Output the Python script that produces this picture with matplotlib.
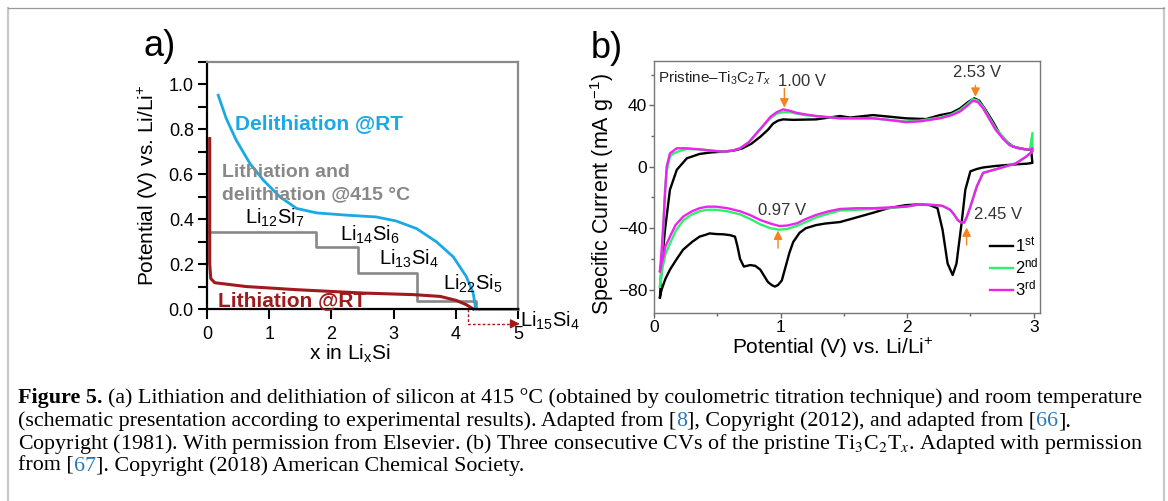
import matplotlib
matplotlib.use("Agg")
import matplotlib.pyplot as plt
from matplotlib.lines import Line2D
from matplotlib.ticker import MultipleLocator

plt.rcParams['font.family'] = ['Liberation Sans', 'DejaVu Sans']
plt.rcParams['mathtext.fontset'] = 'custom'
plt.rcParams['mathtext.rm'] = 'Liberation Sans'
plt.rcParams['mathtext.it'] = 'Liberation Sans:italic'
plt.rcParams['mathtext.bf'] = 'Liberation Sans:bold'
plt.rcParams['mathtext.default'] = 'rm'

# ---- panel a data (x in LixSi, potential V) ----
deli_x = [0.18, 0.31, 0.47, 0.69, 0.905, 1.17, 1.44, 1.76, 2.24, 2.72, 3.04, 3.37, 3.69, 3.96, 4.17, 4.28, 4.32]
deli_y = [0.952, 0.848, 0.752, 0.648, 0.574, 0.50, 0.448, 0.428, 0.418, 0.41, 0.392, 0.358, 0.299, 0.232, 0.144, 0.07, 0.0]

lith_x = [0.043, 0.043, 0.06, 0.124, 0.63, 1.44, 2.51, 3.32, 3.75, 4.01, 4.17, 4.28]
lith_y = [0.759, 0.203, 0.136, 0.117, 0.10, 0.086, 0.071, 0.064, 0.056, 0.038, 0.019, 0.0]

step_x = [0.0, 1.75, 2.43, 3.38, 4.32, 5.0]
step_y = [0.345, 0.277, 0.159, 0.037, 0.0, 0.0]

phases = ["Li$_{12}$Si$_7$", "Li$_{14}$Si$_6$", "Li$_{13}$Si$_4$", "Li$_{22}$Si$_5$", "Li$_{15}$Si$_4$"]
phase_x = [0.61, 2.14, 2.77, 3.80, 5.04]
phase_y = [0.378, 0.304, 0.196, 0.084, -0.079]

dash_x = [4.2, 4.2, 4.97]
dash_y = [0.0, -0.066, -0.066]

# ---- panel b data (potential V, specific current mA/g) ----
v1_up = [0.047, 0.06, 0.087, 0.126, 0.18, 0.26, 0.36, 0.45, 0.55, 0.63, 0.70, 0.77, 0.84, 0.90, 0.94, 0.98,
         1.02, 1.10, 1.28, 1.47, 1.55, 1.73, 1.99, 2.15, 2.26, 2.35, 2.42, 2.48, 2.53, 2.57, 2.62, 2.68,
         2.73, 2.79, 2.84, 2.92, 2.98]
i1_up = [-85, -65, -41, -15, -2, 5.5, 8.3, 9.3, 9.8, 10.5, 12, 15, 19.5, 24, 28, 30,
         30.8, 30.5, 30.8, 33, 32, 33.6, 31.5, 31, 33.6, 35, 38, 42, 44.5, 43, 37, 29,
         21.7, 16, 13, 11.5, 10.9]
v1_dn = [2.99, 2.95, 2.85, 2.70, 2.60, 2.55, 2.50, 2.46, 2.43, 2.39, 2.36, 2.32, 2.28, 2.24, 2.18,
         2.10, 1.99, 1.85, 1.73, 1.60, 1.47, 1.35, 1.28, 1.20, 1.15, 1.10, 1.07, 1.04, 1.01, 0.98,
         0.955, 0.93, 0.90, 0.84, 0.80, 0.76, 0.71, 0.68, 0.66, 0.64, 0.60, 0.55, 0.49, 0.44, 0.40,
         0.36, 0.30, 0.23, 0.18, 0.126, 0.09, 0.06, 0.047]
i1_dn = [2.5, 2, 1.5, 0.5, -0.5, -1.5, -3, -15, -37, -63, -70.5, -63, -41, -27, -25,
         -24.5, -25, -27, -30, -33, -36, -37, -38, -40, -43, -49, -56, -65, -74, -77,
         -78, -77, -75, -67, -64.5, -64, -65, -60, -52, -45.5, -44.5, -44, -43.8, -43.4, -44.5,
         -45.5, -49, -54, -60, -67, -73, -80, -85]

v2_up = [0.047, 0.06, 0.074, 0.087, 0.10, 0.126, 0.15, 0.18, 0.21, 0.26, 0.36, 0.45, 0.55, 0.62, 0.68,
         0.75, 0.81, 0.87, 0.92, 0.97, 1.02, 1.07, 1.13, 1.20, 1.28, 1.47, 1.55, 1.73, 1.85, 1.99,
         2.10, 2.26, 2.35, 2.42, 2.48, 2.52, 2.56, 2.60, 2.65, 2.70, 2.76, 2.81, 2.88, 2.97, 2.99]
i2_up = [-78, -62, -40, -15, -3, 6.5, 8.5, 9.5, 10.5, 11.5, 11.3, 10.5, 9.8, 10.5, 12,
         16, 21.7, 27, 31.5, 34.5, 35.5, 35.5, 34.5, 33.5, 33, 31.5, 31.5, 31.5, 30.5, 29.5,
         30, 32, 34, 37, 41, 44, 43, 39, 32, 25, 19, 14.5, 12, 11, 22]
v2_dn = [2.99, 2.94, 2.86, 2.73, 2.60, 2.55, 2.50, 2.47, 2.45, 2.42, 2.40, 2.37, 2.34, 2.28, 2.23,
         2.10, 1.99, 1.85, 1.73, 1.60, 1.47, 1.38, 1.28, 1.20, 1.13, 1.05, 0.99, 0.92, 0.84, 0.76,
         0.68, 0.58, 0.49, 0.42, 0.36, 0.30, 0.23, 0.17, 0.126, 0.09, 0.074, 0.06, 0.047]
i2_dn = [10, 6.5, 2.2, -1, -4, -13, -26, -33, -36.4, -36, -34.7, -31, -28, -25.5, -25,
         -24.5, -26, -27, -27.5, -28, -28.5, -30.5, -33, -36, -38.5, -40.5, -41, -40, -37.5, -34,
         -31, -29, -28, -28, -29, -31, -35, -42, -50, -57, -63, -69, -78]

v3_up = [0.047, 0.06, 0.074, 0.087, 0.10, 0.126, 0.18, 0.26, 0.36, 0.45, 0.55, 0.62, 0.68, 0.75, 0.81,
         0.87, 0.92, 0.97, 1.02, 1.07, 1.13, 1.20, 1.28, 1.47, 1.55, 1.73, 1.85, 1.99, 2.10, 2.26,
         2.35, 2.42, 2.48, 2.52, 2.56, 2.60, 2.65, 2.70, 2.76, 2.81, 2.88, 2.97, 2.99]
i3_up = [-68, -55, -37, -18, 0, 8.7, 12, 12, 11.3, 10.5, 9.8, 10.5, 12, 16, 21.7,
         27.5, 32.5, 35.5, 37.3, 36.5, 35, 34, 33, 31.5, 31.5, 31.5, 30.5, 29, 29.5, 31.5,
         33.5, 36, 40, 43, 42, 38, 31, 24, 18, 14, 12, 11, 12]
v3_dn = [2.99, 2.94, 2.86, 2.73, 2.60, 2.55, 2.50, 2.47, 2.45, 2.42, 2.40, 2.37, 2.34, 2.28, 2.23,
         2.10, 1.99, 1.85, 1.73, 1.60, 1.47, 1.38, 1.28, 1.20, 1.13, 1.05, 0.99, 0.92, 0.84, 0.76,
         0.68, 0.58, 0.49, 0.42, 0.36, 0.30, 0.23, 0.17, 0.126, 0.09, 0.074, 0.06, 0.047]
i3_dn = [10, 6.5, 2.2, -1, -4, -13, -26, -33, -36.4, -36, -34.7, -31, -28, -25.5, -25,
         -24.5, -26, -26.5, -27, -27, -27.5, -29, -31.4, -34, -36.8, -38.3, -38.6, -37, -34.7, -31.5,
         -29, -27, -26, -26, -27, -29, -32.5, -38, -45.5, -52, -58.5, -63, -68]

cycle_labels = ["1$^{st}$", "2$^{nd}$", "3$^{rd}$"]
cycle_colors = ["black", "#2ef06a", "#ee22ee"]

peak_labels = ["1.00 V", "2.53 V", "0.97 V", "2.45 V"]
peak_v = [1.03, 2.54, 0.98, 2.47]
arrow_tail = [51, 53, -53, -51]
arrow_head = [38.5, 45.5, -41.5, -39.5]
label_xy = [(1.17, 55.3), (2.55, 61), (1.01, -28.2), (2.72, -31.4)]

W, H = 1168, 501
fig = plt.figure(figsize=(W / 100, H / 100), dpi=100)

blue = "#1aa9e3"
red = "#9e1a1c"
gray = "#888888"
orange = "#f5821f"

# ================= panel a =================
ax = fig.add_axes([207 / W, 1 - 309 / H, 311 / W, 247 / H])
ax.set_xlim(0, 5)
ax.set_ylim(0, 1.1)
ax.step(step_x, step_y, where='post', color=gray, lw=1.9, clip_on=False)
ax.plot(deli_x, deli_y, color=blue, lw=2.0, clip_on=False)
ax.plot(lith_x, lith_y, color=red, lw=2.2, clip_on=False)
ax.plot(dash_x, dash_y, color=red, lw=1.0, ls=(0, (2, 1.5)), clip_on=False)
ax.annotate('', xy=(5.03, dash_y[-1]), xytext=(4.9, dash_y[-1]), annotation_clip=False,
            arrowprops=dict(arrowstyle='-|>', color=red, lw=1.0, mutation_scale=14,
                            shrinkA=0, shrinkB=0))

for s, x, y in zip(phases, phase_x, phase_y):
    ax.text(x, y, s, fontsize=14.5, va='baseline', ha='left', clip_on=False)

ax.text(0.45, 0.80, "Delithiation @RT", color=blue, fontsize=15, fontweight='bold', va='baseline')
ax.text(0.236, 0.588, "Lithiation and", color=gray, fontsize=14, fontweight='bold', va='baseline')
ax.text(0.236, 0.489, "delithiation @415 °C", color=gray, fontsize=14, fontweight='bold', va='baseline')
ax.text(0.18, 0.012, "Lithiation @RT", color=red, fontsize=15, fontweight='bold', va='baseline')

ax.yaxis.set_minor_locator(MultipleLocator(0.1))
ax.xaxis.set_major_locator(MultipleLocator(1))
ax.set_yticks([0, 0.2, 0.4, 0.6, 0.8, 1.0])
ax.set_yticklabels(["0.0", "0.2", "0.4", "0.6", "0.8", "1.0"])
ax.tick_params(axis='y', which='both', direction='out', length=6.5, width=1.5, labelsize=13, pad=3)
ax.tick_params(axis='x', which='both', direction='out', length=7.5, width=1.5, labelsize=13, pad=5)
for side in ['left', 'bottom']:
    ax.spines[side].set_linewidth(1.6)
    ax.spines[side].set_color('black')
for side in ['top', 'right']:
    ax.spines[side].set_linewidth(1.6)
    ax.spines[side].set_color('#8a8a8a')
ax.set_xlabel("x in Li$_x$Si", fontsize=15)
ax.set_ylabel("Potential (V) vs. Li/Li$^{+}$", fontsize=15)
ax.xaxis.set_label_coords(0.46, -0.18)
ax.xaxis.label.set_va('center')
ax.yaxis.set_label_coords(-0.19, 0.5)
ax.yaxis.label.set_va('center')

fig.text(160 / W, 1 - 47 / H, "a)", fontsize=26, ha='center', va='center')

# ================= panel b =================
bx = fig.add_axes([654 / W, 1 - 312.7 / H, 386 / W, 251.7 / H])
bx.set_xlim(0, 3.05)
bx.set_ylim(-95, 68.8)
cycles = [(v1_up, i1_up, v1_dn, i1_dn), (v2_up, i2_up, v2_dn, i2_dn), (v3_up, i3_up, v3_dn, i3_dn)]
for (vu, iu, vd, idn), c, lab in zip(cycles, cycle_colors, cycle_labels):
    bx.plot(vu + vd, iu + idn, color=c, lw=1.7, label=lab, solid_joinstyle='round')

for lab, v, t, h, (lx, ly) in zip(peak_labels, peak_v, arrow_tail, arrow_head, label_xy):
    bx.annotate('', xy=(v, h), xytext=(v, t),
                arrowprops=dict(arrowstyle='-|>', color=orange, lw=1.0, mutation_scale=13,
                                shrinkA=0, shrinkB=0))
    bx.text(lx, ly, lab, fontsize=12, ha='center', va='center', color='#333333')

bx.text(0.01, 0.965, r"Pristine–Ti$_3$C$_2$$\mathit{T}_\mathit{x}$", transform=bx.transAxes,
        fontsize=11, ha='left', va='top', color='#222222')

bx.xaxis.set_major_locator(MultipleLocator(1))
bx.xaxis.set_minor_locator(MultipleLocator(0.5))
bx.yaxis.set_major_locator(MultipleLocator(40))
bx.yaxis.set_minor_locator(MultipleLocator(20))
bx.tick_params(which='major', direction='out', length=3.5, width=1, color='#666666', labelsize=12.5, pad=1.5)
bx.tick_params(which='minor', direction='out', length=2.5, width=1, color='#666666')
for side in bx.spines:
    bx.spines[side].set_color('#777777')
    bx.spines[side].set_linewidth(1.0)
bx.set_xlabel("Potential (V) vs. Li/Li$^{+}$", fontsize=15)
bx.set_ylabel("Specific Current (mA g$^{-1}$)", fontsize=15.5)
bx.xaxis.set_label_coords(0.464, -0.14)
bx.xaxis.label.set_va('center')
bx.yaxis.set_label_coords(-0.135, 0.47)
bx.yaxis.label.set_va('center')
bx.legend(loc='lower right', bbox_to_anchor=(1.0, 0.05), frameon=False, fontsize=12,
          handlelength=1.4, handletextpad=0.1, labelspacing=0.1, borderpad=0.1, borderaxespad=0.0)

fig.text(607 / W, 1 - 48 / H, "b)", fontsize=26, ha='center', va='center')

# ================= figure border =================
fig.add_artist(Line2D([8 / W, 8 / W], [0, 1 - 8 / H], color='#c8c8c8', lw=1.6, transform=fig.transFigure))
fig.add_artist(Line2D([1164 / W, 1164 / W], [0, 1 - 8 / H], color='#c8c8c8', lw=1.6, transform=fig.transFigure))
fig.add_artist(Line2D([8 / W, 1164 / W], [1 - 8 / H, 1 - 8 / H], color='#9a9a9a', lw=0.9, transform=fig.transFigure))

# ================= caption =================
cap_font = dict(family=['Liberation Serif', 'DejaVu Serif'], math_fontfamily='stix')
link = "#2878b8"
renderer = fig.canvas.get_renderer()

cap_lines = [
    (403, [("Figure 5.", 'black', 'bold'),
           (" (a) Lithiation and delithiation of silicon at 415 °C (obtained by coulometric titration technique) and room temperature", 'black', 'normal')]),
    (426, [("(schematic presentation according to experimental results). Adapted from [", 'black', 'normal'),
           ("8", link, 'normal'),
           ("], Copyright (2012), and adapted from [", 'black', 'normal'),
           ("66", link, 'normal'),
           ("].", 'black', 'normal')]),
    (449, [(r"Copyright (1981). With permission from Elsevier. (b) Three consecutive CVs of the pristine Ti$_3$C$_2$T$_{\mathit{x}}$. Adapted with permission", 'black', 'normal')]),
    (471, [("from [", 'black', 'normal'),
           ("67", link, 'normal'),
           ("]. Copyright (2018) American Chemical Society.", 'black', 'normal')]),
]


def caption_line(y_px, parts, size, keep=True):
    s0 = fig.text(0, 0, "a a", fontsize=size, **cap_font)
    s1 = fig.text(0, 0, "aa", fontsize=size, **cap_font)
    space_w = s0.get_window_extent(renderer).width - s1.get_window_extent(renderer).width
    s0.remove()
    s1.remove()
    x = 18.0
    made = []
    for s, color, weight in parts:
        if s.startswith(' '):
            x += space_w
            s = s.lstrip()
        t = fig.text(x / W, 1 - y_px / H, s, fontsize=size, color=color, fontweight=weight,
                     va='baseline', ha='left', **cap_font)
        x += t.get_window_extent(renderer).width
        made.append(t)
    if not keep:
        for t in made:
            t.remove()
    return x


# fit the first caption line to the width seen in the reference (18 -> 1140 px)
base = 13.0
end = caption_line(*cap_lines[0], base, keep=False)
cap_size = base * (1140 - 18) / (end - 18)
for y_px, parts in cap_lines:
    caption_line(y_px, parts, cap_size)

fig.savefig("out.png", dpi=100)
